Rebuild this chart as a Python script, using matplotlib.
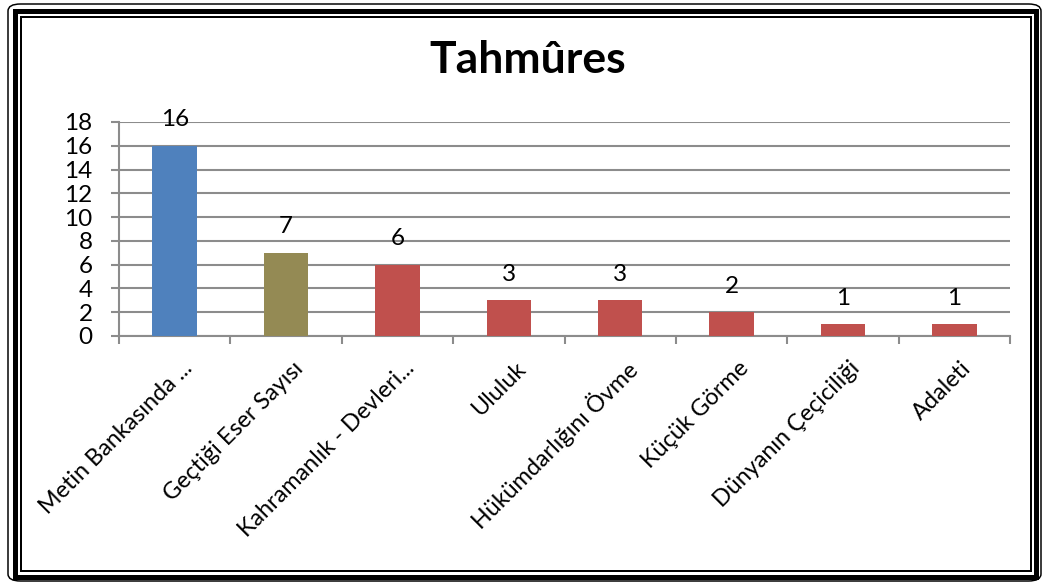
import matplotlib
matplotlib.use("Agg")
import matplotlib.pyplot as plt
from matplotlib.patches import Rectangle, FancyBboxPatch
import numpy as np

# chart data
categories = ["Metin Bankasında ...", "Geçtiği Eser Sayısı", "Kahramanlık - Devleri...",
              "Ululuk", "Hükümdarlığını Övme", "Küçük Görme", "Dünyanın Çeçiciliği", "Adaleti"]
values = [16, 7, 6, 3, 3, 2, 1, 1]
bar_colors = ["#4F81BD", "#948A54", "#C0504D", "#C0504D", "#C0504D", "#C0504D", "#C0504D", "#C0504D"]
y_ticks = [0, 2, 4, 6, 8, 10, 12, 14, 16, 18]
title = "Tahmûres"

plt.rcParams['font.family'] = ['Lato', 'DejaVu Sans']

W, H = 1043, 584
fig = plt.figure(figsize=(W / 100, H / 100), dpi=100)
fig.patch.set_facecolor("white")

# triple frame round the chart
def px_rect(x0, y0, x1, y1, lw, rounded=False):
    if rounded:
        p = FancyBboxPatch((x0 / W, 1 - y1 / H), (x1 - x0) / W, (y1 - y0) / H,
                           boxstyle="round,pad=0,rounding_size=0.012",
                           transform=fig.transFigure, fill=False, edgecolor="black",
                           linewidth=lw * 0.72)
    else:
        p = Rectangle((x0 / W, 1 - y1 / H), (x1 - x0) / W, (y1 - y0) / H,
                      transform=fig.transFigure, fill=False, edgecolor="black",
                      linewidth=lw * 0.72)
    fig.patches.append(p)

px_rect(8, 4, 1041, 581, 1.5, rounded=True)
px_rect(14.5, 10.5, 1036, 576.5, 5)
px_rect(21, 17, 1030.5, 571, 2)

ax = fig.add_axes([119 / W, 1 - 336 / H, (1010 - 119) / W, (336 - 122) / H])
x = np.arange(len(categories))
bars = ax.bar(x, values, width=0.4, color=bar_colors, zorder=3)

ax.set_xlim(-0.5, len(categories) - 0.5)
ax.set_ylim(0, 18)
ax.set_yticks(y_ticks)
ax.set_yticklabels([str(v) for v in y_ticks], fontsize=17.5)
ax.yaxis.grid(True, color="#8C8C8C", linewidth=1.5, zorder=0)
ax.set_axisbelow(True)

for s in ["top", "right"]:
    ax.spines[s].set_visible(False)
for s in ["left", "bottom"]:
    ax.spines[s].set_color("#8C8C8C")
    ax.spines[s].set_linewidth(1.5)
ax.tick_params(axis="y", length=6, width=1.5, color="#8C8C8C", pad=13)

# x ticks at category borders, labels at centres
ax.set_xticks(np.arange(len(categories) + 1) - 0.5)
ax.set_xticklabels([])
ax.tick_params(axis="x", length=6, width=1.5, color="#8C8C8C")
for i, c in enumerate(categories):
    ax.annotate(c, xy=(i, 0), xycoords=("data", "data"), xytext=(10, -21),
                textcoords="offset points", rotation=45, ha="right", va="center",
                rotation_mode="anchor", fontsize=16.8)

for b, v in zip(bars, values):
    ax.annotate(str(v), xy=(b.get_x() + b.get_width() / 2, v), xytext=(0, 11),
                textcoords="offset points", ha="center", va="bottom", fontsize=17.5)

fig.text(528 / W, 1 - 60 / H, title, ha="center", va="center", fontsize=32, fontweight="bold")

fig.savefig("out.png", dpi=100)
